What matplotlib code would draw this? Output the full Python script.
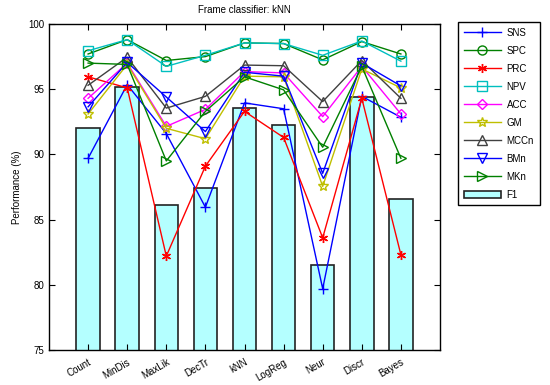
import matplotlib
matplotlib.use("Agg")
import matplotlib.pyplot as plt

plt.rcParams['font.family'] = ['Liberation Sans', 'DejaVu Sans']

# classifiers on the x axis
categories = ["Count", "MinDis", "MaxLik", "DecTr", "kNN", "LogReg", "Neur", "Discr", "Bayes"]

# performance measures (%)
sns_vals = [89.7, 95.35, 91.6, 85.95, 93.95, 93.5, 79.7, 94.45, 92.85]
spc_vals = [97.7, 98.8, 97.2, 97.5, 98.55, 98.5, 97.25, 98.65, 97.7]
prc_vals = [95.95, 95.1, 82.2, 89.1, 93.3, 91.3, 83.6, 94.3, 82.3]
npv_vals = [97.95, 98.8, 96.75, 97.6, 98.55, 98.5, 97.6, 98.7, 97.15]
acc_vals = [94.3, 97.0, 92.15, 93.45, 96.35, 96.25, 92.9, 96.75, 93.1]
gm_vals = [93.1, 96.9, 92.0, 91.2, 96.0, 95.95, 87.55, 96.55, 95.1]
mccn_vals = [95.3, 97.45, 93.55, 94.45, 96.85, 96.8, 94.05, 97.2, 94.3]
bmn_vals = [93.65, 97.05, 94.4, 91.75, 96.3, 96.0, 88.55, 97.0, 95.25]
mkn_vals = [97.0, 96.9, 89.5, 93.3, 95.95, 94.95, 90.55, 96.75, 89.7]
f1_vals = [92.0, 95.15, 86.1, 87.4, 93.55, 92.25, 81.5, 94.4, 86.6]

x = list(range(1, len(categories) + 1))

fig = plt.figure(figsize=(5.5, 3.85), dpi=100)
ax = fig.add_axes([49 / 550, 1 - 350 / 385, 391 / 550, 326 / 385])

ax.bar(x, f1_vals, width=0.6, bottom=0, color="#b4ffff", edgecolor="#222222",
       linewidth=1.2, label="F1", zorder=1)

series = [
    ("SNS", sns_vals, "#0000ff", "+", {"markersize": 7}),
    ("SPC", spc_vals, "#008000", "o", {}),
    ("PRC", prc_vals, "#ff0000", (6, 2, 0), {}),
    ("NPV", npv_vals, "#00bfbf", "s", {}),
    ("ACC", acc_vals, "#ff00ff", "D", {"markersize": 5}),
    ("GM", gm_vals, "#bfbf00", "*", {"markersize": 7}),
    ("MCCn", mccn_vals, "#404040", "^", {}),
    ("BMn", bmn_vals, "#0000ff", "v", {}),
    ("MKn", mkn_vals, "#008000", ">", {}),
]

for name, vals, col, mk, extra in series:
    kw = dict(markersize=6.5, markerfacecolor="none", markeredgewidth=1.0)
    kw.update(extra)
    ax.plot(x, vals, color=col, marker=mk, linewidth=1.0, label=name, zorder=3, **kw)

ax.set_xlim(0, 10)
ax.set_ylim(75, 100)
ax.set_yticks([75, 80, 85, 90, 95, 100])
ax.set_xticks(x)
ax.set_xticklabels(categories, rotation=30, ha="right", rotation_mode="anchor")
ax.tick_params(direction="in", top=True, right=True, length=4, labelsize=7, width=0.8)
ax.tick_params(axis="x", pad=5)
for sp in ax.spines.values():
    sp.set_linewidth(1.0)

ax.set_ylabel("Performance (%)", fontsize=7)
ax.set_title("Frame classifier: kNN", fontsize=7, pad=8)

handles, labels = ax.get_legend_handles_labels()
order = labels.index("F1")
handles = handles[:order] + handles[order + 1:] + [handles[order]]
labels = labels[:order] + labels[order + 1:] + [labels[order]]
leg = fig.legend(handles, labels, loc="upper left", bbox_to_anchor=(458 / 550, 1 - 22 / 385),
                 fontsize=7, fancybox=False, edgecolor="black", framealpha=1,
                 handlelength=3.8, handletextpad=0.6, labelspacing=0.82, borderpad=0.6,
                 borderaxespad=0)
leg.get_frame().set_linewidth(1.0)

fig.savefig("out.png", dpi=100)
